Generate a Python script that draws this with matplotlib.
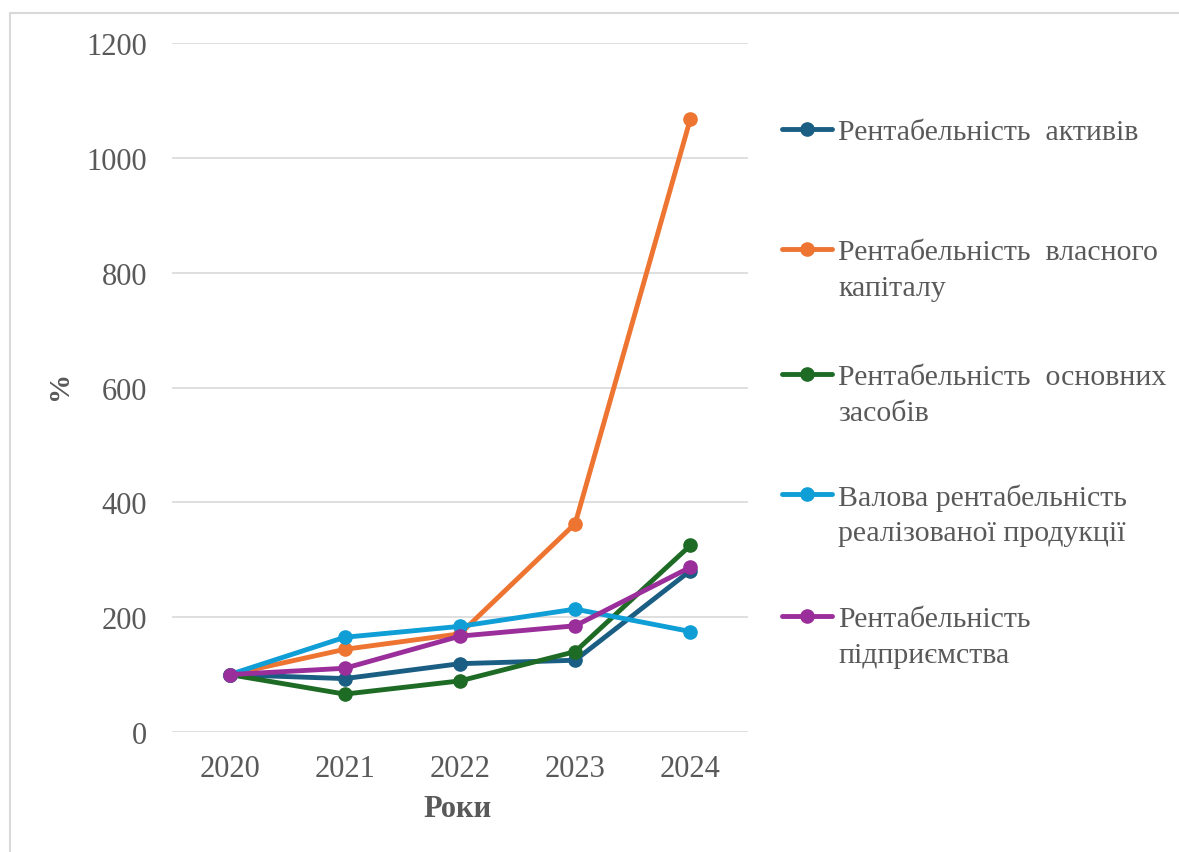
import matplotlib
matplotlib.use("Agg")
import matplotlib.pyplot as plt
from matplotlib.patches import Rectangle
from matplotlib.lines import Line2D

years = ["2020", "2021", "2022", "2023", "2024"]
assets = [100, 93, 119, 125, 281]
equity = [100, 144, 171, 363, 1068]
fixed_assets = [100, 66, 89, 140, 325]
gross_margin = [100, 165, 184, 214, 175]
enterprise = [100, 111, 167, 185, 287]

series_labels = [
    "Рентабельність  активів",
    "Рентабельність  власного\nкапіталу",
    "Рентабельність  основних\nзасобів",
    "Валова рентабельність\nреалізованої продукції",
    "Рентабельність\nпідприємства",
]
series_values = [assets, equity, fixed_assets, gross_margin, enterprise]
colors = ["#1A5E83", "#ED7431", "#1E6B25", "#0F9ED5", "#9A2E9A"]

plt.rcParams['font.family'] = ['Liberation Serif', 'DejaVu Serif']

W, H = 1179, 853
fig = plt.figure(figsize=(W/100, H/100), dpi=100)
ax = fig.add_axes([172/W, 1-733/H, (748-172)/W, (733-44)/H])

x = list(range(len(years)))
for vals, lab, col in zip(series_values, series_labels, colors):
    ax.plot(x, vals, color=col, lw=3.5, marker='o', markersize=9.5,
            label=lab, solid_capstyle='round', solid_joinstyle='round')

ax.set_xlim(-0.5, 4.5)
ax.set_ylim(0, 1200)
ax.set_yticks(range(0, 1201, 200))
ax.set_xticks(x)
ax.set_xticklabels(years)
ax.grid(axis='y', color='#D9D9D9', lw=1.2)
ax.set_axisbelow(True)
for s in ax.spines.values():
    s.set_visible(False)
ax.tick_params(axis='both', length=0, labelsize=22, labelcolor='#595959')
ax.tick_params(axis='y', pad=18)
ax.tick_params(axis='x', pad=16)

ax.set_ylabel('%', fontsize=21, fontweight='bold', color='#595959', va='center')
ax.yaxis.set_label_coords((60-172)/576, (733-385)/689)
ax.set_xlabel('Роки', fontsize=22, fontweight='bold', color='#595959')
ax.xaxis.set_label_coords((458-172)/576, (733-810)/689)
ax.xaxis.label.set_va('center')

# legend (drawn entry by entry so the key sits on the first text line)
first_line_y = [130, 250, 375, 495, 617]
line_gap = 36
for lab, col, yy in zip(series_labels, colors, first_line_y):
    yf = 1 - yy/H
    fig.add_artist(Line2D([782/W, 832/W], [yf, yf], transform=fig.transFigure,
                          color=col, lw=3.5, solid_capstyle='round'))
    fig.add_artist(Line2D([807/W], [yf], transform=fig.transFigure,
                          color=col, marker='o', markersize=9.5, lw=0))
    for k, line in enumerate(lab.split('\n')):
        fig.text(838/W, 1 - (yy + k*line_gap)/H, line, fontsize=21.5,
                 color='#595959', va='center_baseline', ha='left')

fig.patches.append(Rectangle((10/W, -0.1), 1.2, 1-14/H + 0.1,
                             transform=fig.transFigure, fill=False,
                             edgecolor='#D9D9D9', lw=1.5))

fig.savefig('out.png', dpi=100)
